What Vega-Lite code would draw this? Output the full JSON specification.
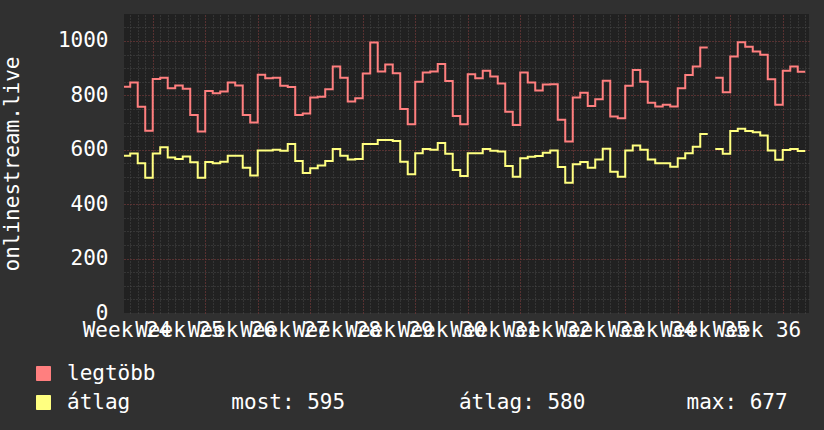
{
  "$schema": "https://vega.github.io/schema/vega-lite/v6.json",
  "width": 685,
  "height": 299,
  "autosize": {"type": "none"},
  "padding": {"left": 124, "top": 14, "right": 15, "bottom": 117},
  "background": "#303030",
  "config": {
    "view": {"fill": "#212121", "stroke": null},
    "font": "DejaVu Sans Mono",
    "axis": {"labelFont": "DejaVu Sans Mono", "titleFont": "DejaVu Sans Mono"}
  },
  "data": {
    "values": [
      {"day": 3, "legtöbb": 832, "átlag": 578, "seg": "a"},
      {"day": 4, "legtöbb": 847, "átlag": 586, "seg": "a"},
      {"day": 5, "legtöbb": 758, "átlag": 550, "seg": "a"},
      {"day": 6, "legtöbb": 670, "átlag": 497, "seg": "a"},
      {"day": 7, "legtöbb": 860, "átlag": 586, "seg": "a"},
      {"day": 8, "legtöbb": 865, "átlag": 609, "seg": "a"},
      {"day": 9, "legtöbb": 826, "átlag": 572, "seg": "a"},
      {"day": 10, "legtöbb": 836, "átlag": 566, "seg": "a"},
      {"day": 11, "legtöbb": 824, "átlag": 575, "seg": "a"},
      {"day": 12, "legtöbb": 728, "átlag": 554, "seg": "a"},
      {"day": 13, "legtöbb": 667, "átlag": 497, "seg": "a"},
      {"day": 14, "legtöbb": 816, "átlag": 555, "seg": "a"},
      {"day": 15, "legtöbb": 808, "átlag": 550, "seg": "a"},
      {"day": 16, "legtöbb": 814, "átlag": 556, "seg": "a"},
      {"day": 17, "legtöbb": 847, "átlag": 578, "seg": "a"},
      {"day": 18, "legtöbb": 836, "átlag": 578, "seg": "a"},
      {"day": 19, "legtöbb": 728, "átlag": 534, "seg": "a"},
      {"day": 20, "legtöbb": 700, "átlag": 505, "seg": "a"},
      {"day": 21, "legtöbb": 876, "átlag": 597, "seg": "a"},
      {"day": 22, "legtöbb": 863, "átlag": 597, "seg": "a"},
      {"day": 23, "legtöbb": 865, "átlag": 600, "seg": "a"},
      {"day": 24, "legtöbb": 835, "átlag": 596, "seg": "a"},
      {"day": 25, "legtöbb": 831, "átlag": 621, "seg": "a"},
      {"day": 26, "legtöbb": 728, "átlag": 559, "seg": "a"},
      {"day": 27, "legtöbb": 733, "átlag": 515, "seg": "a"},
      {"day": 28, "legtöbb": 792, "átlag": 532, "seg": "a"},
      {"day": 29, "legtöbb": 795, "átlag": 542, "seg": "a"},
      {"day": 30, "legtöbb": 822, "átlag": 559, "seg": "a"},
      {"day": 31, "legtöbb": 906, "átlag": 603, "seg": "a"},
      {"day": 32, "legtöbb": 865, "átlag": 578, "seg": "a"},
      {"day": 33, "legtöbb": 777, "átlag": 564, "seg": "a"},
      {"day": 34, "legtöbb": 789, "átlag": 566, "seg": "a"},
      {"day": 35, "legtöbb": 880, "átlag": 621, "seg": "a"},
      {"day": 36, "legtöbb": 994, "átlag": 621, "seg": "a"},
      {"day": 37, "legtöbb": 888, "átlag": 636, "seg": "a"},
      {"day": 38, "legtöbb": 913, "átlag": 636, "seg": "a"},
      {"day": 39, "legtöbb": 881, "átlag": 632, "seg": "a"},
      {"day": 40, "legtöbb": 750, "átlag": 556, "seg": "a"},
      {"day": 41, "legtöbb": 694, "átlag": 510, "seg": "a"},
      {"day": 42, "legtöbb": 850, "átlag": 587, "seg": "a"},
      {"day": 43, "legtöbb": 884, "átlag": 603, "seg": "a"},
      {"day": 44, "legtöbb": 888, "átlag": 600, "seg": "a"},
      {"day": 45, "legtöbb": 915, "átlag": 625, "seg": "a"},
      {"day": 46, "legtöbb": 853, "átlag": 585, "seg": "a"},
      {"day": 47, "legtöbb": 724, "átlag": 526, "seg": "a"},
      {"day": 48, "legtöbb": 694, "átlag": 504, "seg": "a"},
      {"day": 49, "legtöbb": 878, "átlag": 587, "seg": "a"},
      {"day": 50, "legtöbb": 863, "átlag": 587, "seg": "a"},
      {"day": 51, "legtöbb": 890, "átlag": 603, "seg": "a"},
      {"day": 52, "legtöbb": 869, "átlag": 596, "seg": "a"},
      {"day": 53, "legtöbb": 844, "átlag": 594, "seg": "a"},
      {"day": 54, "legtöbb": 740, "átlag": 540, "seg": "a"},
      {"day": 55, "legtöbb": 691, "átlag": 501, "seg": "a"},
      {"day": 56, "legtöbb": 884, "átlag": 569, "seg": "a"},
      {"day": 57, "legtöbb": 847, "átlag": 574, "seg": "a"},
      {"day": 58, "legtöbb": 818, "átlag": 577, "seg": "a"},
      {"day": 59, "legtöbb": 840, "átlag": 589, "seg": "a"},
      {"day": 60, "legtöbb": 841, "átlag": 597, "seg": "a"},
      {"day": 61, "legtöbb": 710, "átlag": 537, "seg": "a"},
      {"day": 62, "legtöbb": 630, "átlag": 479, "seg": "a"},
      {"day": 63, "legtöbb": 792, "átlag": 547, "seg": "a"},
      {"day": 64, "legtöbb": 810, "átlag": 555, "seg": "a"},
      {"day": 65, "legtöbb": 761, "átlag": 534, "seg": "a"},
      {"day": 66, "legtöbb": 786, "átlag": 564, "seg": "a"},
      {"day": 67, "legtöbb": 854, "átlag": 604, "seg": "a"},
      {"day": 68, "legtöbb": 722, "átlag": 519, "seg": "a"},
      {"day": 69, "legtöbb": 716, "átlag": 501, "seg": "a"},
      {"day": 70, "legtöbb": 835, "átlag": 597, "seg": "a"},
      {"day": 71, "legtöbb": 893, "átlag": 616, "seg": "a"},
      {"day": 72, "legtöbb": 850, "átlag": 600, "seg": "a"},
      {"day": 73, "legtöbb": 773, "átlag": 564, "seg": "a"},
      {"day": 74, "legtöbb": 759, "átlag": 550, "seg": "a"},
      {"day": 75, "legtöbb": 765, "átlag": 550, "seg": "a"},
      {"day": 76, "legtöbb": 759, "átlag": 538, "seg": "a"},
      {"day": 77, "legtöbb": 826, "átlag": 569, "seg": "a"},
      {"day": 78, "legtöbb": 875, "átlag": 587, "seg": "a"},
      {"day": 79, "legtöbb": 906, "átlag": 611, "seg": "a"},
      {"day": 80, "legtöbb": 976, "átlag": 658, "seg": "a"},
      {"day": 81, "legtöbb": 976, "átlag": 658, "seg": "a"},
      {"day": 82, "legtöbb": 865, "átlag": 603, "seg": "b"},
      {"day": 83, "legtöbb": 811, "átlag": 585, "seg": "b"},
      {"day": 84, "legtöbb": 943, "átlag": 669, "seg": "b"},
      {"day": 85, "legtöbb": 995, "átlag": 677, "seg": "b"},
      {"day": 86, "legtöbb": 979, "átlag": 669, "seg": "b"},
      {"day": 87, "legtöbb": 961, "átlag": 664, "seg": "b"},
      {"day": 88, "legtöbb": 949, "átlag": 652, "seg": "b"},
      {"day": 89, "legtöbb": 859, "átlag": 597, "seg": "b"},
      {"day": 90, "legtöbb": 765, "átlag": 563, "seg": "b"},
      {"day": 91, "legtöbb": 890, "átlag": 599, "seg": "b"},
      {"day": 92, "legtöbb": 906, "átlag": 603, "seg": "b"},
      {"day": 93, "legtöbb": 887, "átlag": 595, "seg": "b"},
      {"day": 94, "legtöbb": 887, "átlag": 595, "seg": "b"}
    ]
  },
  "transform": [{"fold": ["legtöbb", "átlag"], "as": ["series", "value"]}],
  "resolve": {"axis": {"x": "independent", "y": "independent"}},
  "layer": [
    {
      "mark": {"type": "point", "opacity": 0},
      "encoding": {
        "x": {"field": "day", "type": "quantitative",
          "scale": {"domain": [3.17, 94.5], "nice": false, "zero": false},
          "axis": {"orient": "top", "title": null, "labels": false, "ticks": false, "domain": false,
            "grid": true, "gridColor": "#4a4a4a", "gridDash": [1, 2], "gridWidth": 1,
            "values": [4,5,6,7,8,9,10,11,12,13,14,15,16,17,18,19,20,21,22,23,24,25,26,27,28,29,30,31,32,33,34,35,36,37,38,39,40,41,42,43,44,45,46,47,48,49,50,51,52,53,54,55,56,57,58,59,60,61,62,63,64,65,66,67,68,69,70,71,72,73,74,75,76,77,78,79,80,81,82,83,84,85,86,87,88,89,90,91,92,93,94]}},
        "y": {"field": "value", "type": "quantitative",
          "scale": {"domain": [0, 1099], "nice": false, "zero": true},
          "axis": {"orient": "right", "title": null, "labels": false, "ticks": false, "domain": false,
            "grid": true, "gridColor": "#4a4a4a", "gridDash": [1, 2], "gridWidth": 1,
            "values": [50,100,150,200,250,300,350,400,450,500,550,600,650,700,750,800,850,900,950,1000,1050]}}
      }
    },
    {
      "mark": {"type": "point", "opacity": 0},
      "encoding": {
        "x": {"field": "day", "type": "quantitative",
          "scale": {"domain": [3.17, 94.5], "nice": false, "zero": false},
          "axis": {"orient": "top", "title": null, "labels": false, "ticks": false, "domain": false,
            "grid": true, "gridColor": "#7a2e2e", "gridDash": [1, 2], "gridWidth": 1,
            "values": [7,14,21,28,35,42,49,56,63,70,77,84,91]}},
        "y": {"field": "value", "type": "quantitative",
          "scale": {"domain": [0, 1099], "nice": false, "zero": true},
          "axis": {"orient": "right", "title": null, "labels": false, "ticks": false, "domain": false,
            "grid": true, "gridColor": "#7a2e2e", "gridDash": [1, 2], "gridWidth": 1,
            "values": [200,400,600,800,1000]}}
      }
    },
    {
      "mark": {"type": "line", "interpolate": "step-after", "strokeWidth": 2, "clip": true},
      "encoding": {
        "x": {"field": "day", "type": "quantitative",
          "scale": {"domain": [3.17, 94.5], "nice": false, "zero": false},
          "axis": {"orient": "bottom", "title": null, "grid": false, "ticks": false, "tickSize": 0, "domain": false,
            "values": [3.5,10.5,17.5,24.5,31.5,38.5,45.5,52.5,59.5,66.5,73.5,80.5,87.5],
            "labelExpr": "'Week ' + round(24 + (datum.value - 3.5) / 7)",
            "labelOverlap": false, "labelFlush": false, "labelPadding": 6, "labelBaseline": "top",
            "labelFontSize": 21, "labelColor": "#ffffff", "labelFont": "DejaVu Sans Mono"}},
        "y": {"field": "value", "type": "quantitative",
          "scale": {"domain": [0, 1099], "nice": false, "zero": true},
          "axis": {"orient": "left", "grid": false, "ticks": false, "tickSize": 0, "domain": false,
            "values": [0,200,400,600,800,1000], "format": "d",
            "labelPadding": 16, "labelFontSize": 21, "labelColor": "#ffffff", "labelFont": "DejaVu Sans Mono",
            "labelBaseline": "middle",
            "title": "onlinestream.live", "titleFont": "DejaVu Sans Mono", "titleFontSize": 21,
            "titleFontWeight": "normal", "titleColor": "#ffffff", "titleAngle": -90,
            "titleX": -112, "titleY": 149.5, "titleAlign": "center", "titleBaseline": "middle"}},
        "color": {"field": "series", "type": "nominal",
          "scale": {"domain": ["legtöbb", "átlag"], "range": ["#ff7f7f", "#ffff80"]},
          "legend": {"title": null, "orient": "none", "legendX": -91, "legendY": 349, "direction": "vertical",
            "symbolType": "square", "symbolSize": 196, "symbolStrokeWidth": 1,
            "labelFont": "DejaVu Sans Mono", "labelFontSize": 21, "labelColor": "#ffffff",
            "labelLimit": 0, "labelOffset": 13, "rowPadding": 7, "padding": 0,
            "labelExpr": "datum.label == 'átlag' ? 'átlag\u00a0\u00a0\u00a0\u00a0\u00a0\u00a0\u00a0\u00a0most: 595\u00a0\u00a0\u00a0\u00a0\u00a0\u00a0\u00a0\u00a0\u00a0átlag: 580\u00a0\u00a0\u00a0\u00a0\u00a0\u00a0\u00a0\u00a0max: 677' : datum.label",
            "encode": {"symbols": {"update": {
              "fill": {"scale": "color", "field": "value"},
              "stroke": {"value": "#000000"},
              "opacity": {"value": 1},
              "fillOpacity": {"value": 1}}}}}},
        "detail": {"field": "seg", "type": "nominal"}
      }
    }
  ]
}
